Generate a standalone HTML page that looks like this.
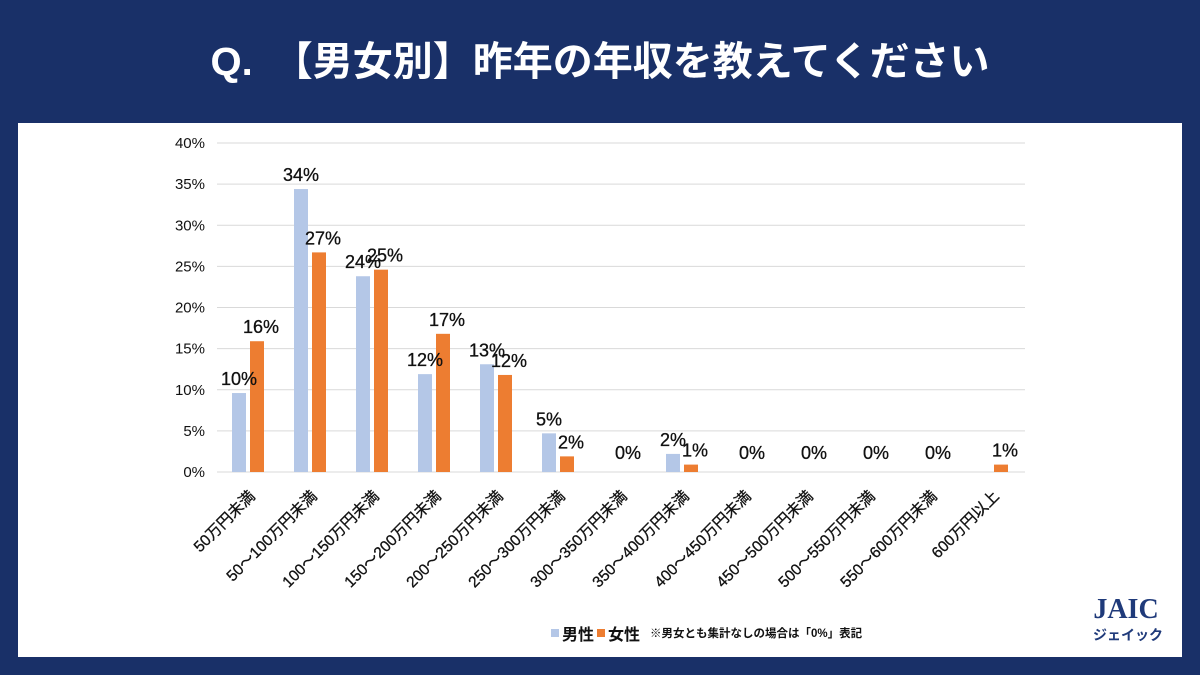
<!DOCTYPE html>
<html><head><meta charset="utf-8"><style>
body{margin:0;width:1200px;height:675px;background:#193068;overflow:hidden;font-family:"Liberation Sans","Noto Sans CJK JP",sans-serif;}
#title{position:absolute;left:0;top:38px;width:1200px;text-align:center;color:#fff;font-size:40px;line-height:48px;font-weight:bold;font-family:"Liberation Sans","Noto Sans CJK JP",sans-serif;}
#panel{position:absolute;left:18px;top:123px;width:1164px;height:534px;background:#fff;}
svg{position:absolute;left:0;top:0;}
</style></head><body>
<div id="title">Q.　【男女別】昨年の年収を教えてください</div>
<div id="panel"></div>
<svg id="chart" width="1200" height="675"></svg>
<script>
const categories=["50万円未満","50～100万円未満","100～150万円未満","150～200万円未満","200～250万円未満","250～300万円未満","300～350万円未満","350～400万円未満","400～450万円未満","450～500万円未満","500～550万円未満","550～600万円未満","600万円以上"];
const maleValues=[9.6,34.4,23.8,11.9,13.1,4.7,0,2.2,0,0,0,0,0];
const femaleValues=[15.9,26.7,24.6,16.8,11.8,1.9,0,0.9,0,0,0,0,0.9];
const yTicks=[0,5,10,15,20,25,30,35,40];
const NS="http://www.w3.org/2000/svg";
const svg=document.getElementById('chart');
const y0=472,yTop=143,yMax=40;
function yScale(v){return y0-(v/yMax)*(y0-yTop);}
function xCenter(i){return 248+62*i;}
function mk(tag,attrs,txt){const e=document.createElementNS(NS,tag);for(const k in attrs)e.setAttribute(k,attrs[k]);if(txt!==undefined)e.textContent=txt;svg.appendChild(e);return e;}
const F='"Liberation Sans","Noto Sans CJK JP",sans-serif';
yTicks.forEach(t=>{
  const g=mk('line',{x1:217,x2:1025,y1:yScale(t),y2:yScale(t),stroke:'#d9d9d9','stroke-width':1});
  
  
  const l=mk('text',{x:205,y:yScale(t)+5,'text-anchor':'end','font-size':15,fill:'#111','font-family':F},t+'%');
  
  
});
const bw=14;
categories.forEach((c,i)=>{
  const cx=xCenter(i);
  const m=maleValues[i],f=femaleValues[i];
  const mb=mk('rect',{x:cx-16,y:yScale(m),width:bw,height:y0-yScale(m),fill:'#b4c7e7'});
  
  
  const fb=mk('rect',{x:cx+2,y:yScale(f),width:bw,height:y0-yScale(f),fill:'#ed7d31'});
  
  
  const vs={'font-size':18,fill:'#111','font-family':F,stroke:'#111','stroke-width':0.3};
  if(m===0&&f===0){
    const t=mk('text',Object.assign({x:cx+8,y:y0-13,'text-anchor':'middle'},vs),'0%');
    
    
  }else{
    if(m>0){const t=mk('text',Object.assign({x:cx-9,y:yScale(m)-8,'text-anchor':'middle'},vs),Math.round(m)+'%');
    
    }
    if(f>0){const t=mk('text',Object.assign({x:cx+13,y:yScale(f)-8,'text-anchor':'middle'},vs),Math.round(f)+'%');
    
    }
  }
  const xl=mk('text',{x:cx+8,y:497,'text-anchor':'end','font-size':15.5,fill:'#111',stroke:'#111','stroke-width':0.3,'font-family':F,transform:`rotate(-45 ${cx+8} 497)`},c);
  
  
});
const lg1=mk('rect',{x:551,y:629,width:8,height:8,fill:'#b4c7e7'});


const lt1=mk('text',{x:562,y:640,'font-size':16,'font-weight':'bold',fill:'#111','font-family':F},'男性');


const lg2=mk('rect',{x:597,y:629,width:8,height:8,fill:'#ed7d31'});


const lt2=mk('text',{x:608,y:640,'font-size':16,'font-weight':'bold',fill:'#111','font-family':F},'女性');


const note=mk('text',{x:650,y:637,'font-size':11.5,'font-weight':'bold',fill:'#111','font-family':F},'※男女とも集計なしの場合は「0%」表記');


const logo=mk('text',{x:1126,y:618,'text-anchor':'middle','font-size':28,'font-weight':'bold',fill:'#1f3a7a','font-family':'"Liberation Serif",serif'},'JAIC');


const logo2=mk('text',{x:1128,y:640,'text-anchor':'middle','font-size':14,'font-weight':'bold',fill:'#1f3a7a','font-family':F},'ジェイック');


</script>
</body></html>
